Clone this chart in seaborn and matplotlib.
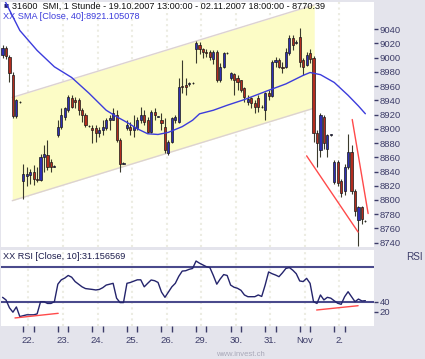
import numpy as np
import pandas as pd
import seaborn as sns
import matplotlib.pyplot as plt

# SMI hourly bars, 19.10.2007 13:00 -> 02.11.2007 18:00 (6 bars on the 19th, then 10 per day)
opens = [9004, 9014, 9001, 8976, 8918, 8937,
         8826, 8833, 8835, 8840, 8830, 8828, 8861, 8863, 8854, 8847,
         8891, 8903, 8917, 8926, 8943, 8940, 8940, 8926, 8919, 8904,
         8901, 8901, 8894, 8898, 8901, 8912, 8912, 8919, 8884, 8851,
         8901, 8903, 8898, 8901, 8912, 8919, 8912, 8896, 8924, 8917,
         8912, 8903, 8866, 8882, 8912, 8910, 8960, 8961, 8963, 8964,
         9012, 9018, 9012, 9008, 9008, 8998, 9008, 8968, 8987, 9006,
         8971, 8977, 8971, 8968, 8957, 8938, 8943, 8936, 8943, 8931,
         8926, 8950, 8946, 8994, 8997, 8987, 8987, 9006, 9027, 9020,
         9029, 8996, 8990, 9006, 8999, 8894, 8870, 8917, 8872, 8891,
         8825, 8854, 8826, 8812, 8847, 8868, 8812, 8772, 8790, 8771]
highs = [9017, 9016, 9003, 8980, 8942, 8939,
         8851, 8847, 8844, 8849, 8847, 8865, 8877, 8884, 8858, 8849,
         8912, 8929, 8931, 8947, 8947, 8945, 8943, 8929, 8922, 8905,
         8905, 8905, 8903, 8912, 8915, 8919, 8929, 8926, 8887, 8853,
         8912, 8910, 8919, 8917, 8931, 8926, 8917, 8926, 8929, 8918,
         8922, 8915, 8884, 8917, 8919, 8971, 8996, 8971, 8966, 8965,
         9023, 9022, 9014, 9012, 9010, 9010, 9010, 8992, 9008, 9008,
         8980, 8978, 8975, 8969, 8959, 8947, 8945, 8940, 8947, 8933,
         8952, 8955, 8997, 9001, 8999, 8994, 9013, 9032, 9032, 9025,
         9041, 8999, 9008, 9012, 9002, 8898, 8922, 8920, 8893, 8893,
         8856, 8856, 8830, 8850, 8893, 8877, 8815, 8792, 8792, 8772]
lows = [9000, 8998, 8966, 8915, 8915, 8936,
        8802, 8819, 8823, 8821, 8825, 8827, 8840, 8842, 8840, 8846,
        8889, 8900, 8912, 8924, 8929, 8929, 8919, 8910, 8903, 8903,
        8880, 8882, 8889, 8891, 8898, 8898, 8912, 8882, 8840, 8850,
        8898, 8891, 8889, 8898, 8908, 8905, 8894, 8894, 8912, 8916,
        8898, 8866, 8863, 8880, 8908, 8908, 8950, 8947, 8960, 8963,
        8992, 9005, 9000, 9001, 8996, 8991, 8966, 8966, 8985, 9005,
        8968, 8947, 8954, 8952, 8938, 8933, 8929, 8922, 8924, 8929,
        8912, 8940, 8944, 8987, 8985, 8978, 8985, 9003, 9010, 9019,
        8987, 8975, 8988, 8993, 8882, 8847, 8861, 8872, 8861, 8890,
        8822, 8819, 8804, 8807, 8843, 8808, 8777, 8735, 8766, 8769]
closes = [9014, 9002, 8978, 8918, 8940, 8938,
          8836, 8837, 8840, 8830, 8828, 8861, 8865, 8847, 8847, 8848,
          8903, 8919, 8929, 8944, 8931, 8938, 8926, 8919, 8905, 8904,
          8898, 8894, 8898, 8903, 8912, 8915, 8922, 8884, 8851, 8852,
          8905, 8898, 8903, 8912, 8919, 8910, 8896, 8924, 8919, 8917,
          8908, 8870, 8882, 8915, 8917, 8959, 8958, 8959, 8964, 8964,
          9020, 9012, 9008, 9006, 9001, 9008, 8968, 8987, 9007, 9007,
          8978, 8968, 8966, 8954, 8945, 8942, 8936, 8931, 8931, 8930,
          8950, 8946, 8994, 8996, 8987, 8985, 9008, 9027, 9017, 9022,
          8994, 8987, 9004, 8998, 8894, 8880, 8919, 8880, 8891, 8892,
          8854, 8824, 8810, 8847, 8868, 8812, 8785, 8790, 8774, 8770.39]

# SMA(40) (bar index, value)
sma_bar = [0, 5, 10, 15, 20, 25, 30, 33, 36, 39, 42, 45, 48, 52, 55, 57, 61,
           65, 70, 77, 82, 87, 89, 92, 96, 100, 103, 105]
sma_val = [9086, 9038, 9010, 8987, 8972, 8950, 8926, 8917, 8909, 8900, 8893,
           8892, 8895, 8903, 8912, 8921, 8926, 8933, 8941, 8954, 8963, 8975,
           8979, 8976, 8965, 8947, 8932, 8921.1]

# RSI(10), one value per bar
rsi = [35, 32, 23, 18, 24, 13,
       14, 15, 15, 15, 16, 30, 30, 28, 28, 30,
       50, 55, 57, 60, 58, 53, 50, 47, 45, 44.5,
       44, 43.4, 44, 46, 49, 50, 51, 34, 29, 29,
       51, 52, 53.5, 55, 55, 47, 51, 54.8, 54, 52,
       41, 35, 41, 47, 51, 59, 65, 65.4, 67, 68,
       76.5, 74, 72, 70, 69, 60, 50, 56, 61, 60,
       49, 46.5, 45.3, 43, 37.7, 35.7, 35.7, 35.7, 37.7, 36,
       49, 64, 62, 60.5, 58.6, 63, 68, 69, 66, 62,
       53.7, 53, 56.7, 51, 30, 28, 37.7, 32, 35, 34,
       31, 28.2, 27, 35.7, 41.4, 35.7, 30, 33, 30.8, 31.16]

# trend channel and wedge lines (bar index, price)
chan_x = [2.8, 90.2]
chan_hi = [8944, 9074]
chan_lo = [8799, 8929]
wedge_lo_x, wedge_lo_y = [88.0, 102.9], [8862, 8755]
wedge_hi_x, wedge_hi_y = [101.2, 105.8], [8913, 8781]
rsi_div1_x, rsi_div1_y = [3.6, 16.1], [11.4, 16.7]
rsi_div2_x, rsi_div2_y = [90.9, 102.9], [20.5, 25.4]

day_start = [6, 16, 26, 36, 46, 56, 66, 76, 86, 96]
day_labels = ["22.", "23.", "24.", "25.", "26.", "29.", "30.", "31.", "Nov", "2."]

df = pd.DataFrame({"open": opens, "high": highs, "low": lows, "close": closes, "rsi": rsi})
df["bar"] = np.arange(len(df))

sns.set_style("white")
plt.rcParams["font.family"] = ["Liberation Sans", "DejaVu Sans"]

W, H = 425, 359
fig = plt.figure(figsize=(W / 100, H / 100), dpi=100, facecolor="#e4e4ec")
ax = fig.add_axes([1 / W, 1 - 247 / H, 373 / W, 245 / H])
ax_rsi = fig.add_axes([1 / W, 1 - 326 / H, 373 / W, 76 / H], sharex=ax)

axis_col = "#3c3c68"

# ---- price panel ----
ax.fill_between(chan_x, chan_lo, chan_hi, color="#fcfcc6", lw=0, zorder=1)
ax.plot(chan_x, chan_hi, color="#dcd2d2", lw=1, zorder=2)
ax.plot(chan_x, chan_lo, color="#dcd2d2", lw=1, zorder=2)

up = df["close"] >= df["open"]
ax.vlines(df["bar"], df["low"], df["high"], color="#3a3a2c", lw=0.8, zorder=3)
ax.bar(df["bar"], (df["close"] - df["open"]).abs().clip(lower=0.5),
       bottom=df[["open", "close"]].min(axis=1), width=0.62,
       color=np.where(up, "#2e2eb4", "#b22c1e"), edgecolor="#1a1a1a",
       lw=0.5, zorder=4)

sns.lineplot(x=sma_bar, y=sma_val, ax=ax, color="#3c3cdc", lw=1, zorder=5)
ax.plot(wedge_lo_x, wedge_lo_y, color="#ff4a4a", lw=1, zorder=5)
ax.plot(wedge_hi_x, wedge_hi_y, color="#ff4a4a", lw=1, zorder=5)

ax.set_xlim(-0.45, 107.5)
ax.set_ylim(8734, 9078)
ax.yaxis.tick_right()
ax.set_yticks(range(8740, 9041, 20))
ax.tick_params(axis="y", right=True, length=3, width=1, pad=1,
               labelsize=6.8, colors=axis_col)
ax.tick_params(axis="x", bottom=False, labelbottom=False)
ax.set_xlabel("")
ax.set_ylabel("")
for s in ax.spines.values():
    s.set_visible(False)

ax.text(0.008, 0.984, "\u25a0", transform=ax.transAxes, fontsize=6,
        color="#202070", va="center", ha="left")
ax.text(0.03, 0.984, "31600  SMI, 1 Stunde - 19.10.2007 13:00:00 - 02.11.2007 18:00:00 - 8770.39",
        transform=ax.transAxes, fontsize=6.6, color="#101010", va="center", ha="left")
ax.text(0.006, 0.94, "XX SMA [Close, 40]:8921.105078", transform=ax.transAxes,
        fontsize=6.6, color="#3c3cdc", va="center", ha="left")

# ---- RSI panel ----
ax_rsi.axhline(70, color="#4a4a8c", lw=1.5, zorder=2)
ax_rsi.axhline(30, color="#4a4a8c", lw=1.5, zorder=2)
sns.lineplot(data=df, x="bar", y="rsi", ax=ax_rsi, color="#24246c", lw=1, zorder=3)
ax_rsi.plot(rsi_div1_x, rsi_div1_y, color="#ff4a4a", lw=1, zorder=4)
ax_rsi.plot(rsi_div2_x, rsi_div2_y, color="#ff4a4a", lw=1, zorder=4)

ax_rsi.set_ylim(2.2, 89.1)
ax_rsi.yaxis.tick_right()
ax_rsi.set_yticks([30, 18.6], ["40", "20"])
ax_rsi.tick_params(axis="y", right=True, length=3, width=1, pad=1,
                   labelsize=6.8, colors=axis_col)
ax_rsi.set_xticks([d + 1.5 for d in day_start], day_labels)
ax_rsi.set_xticks([d for d in day_start] + [d + 3 for d in day_start], minor=True)
ax_rsi.tick_params(axis="x", which="major", length=0, pad=7, labelsize=6.8, colors=axis_col)
ax_rsi.tick_params(axis="x", which="minor", bottom=True, length=4, width=1,
                   direction="out", color=axis_col)
ax_rsi.grid(axis="x", which="major", color="#ececE2", ls=":", lw=1.5)
ax.grid(axis="x", which="major", color="#ececE2", ls=":", lw=1.5)
ax_rsi.set_xlabel("")
ax_rsi.set_ylabel("")
for s in ax_rsi.spines.values():
    s.set_visible(False)

ax_rsi.text(0.006, 0.91, "XX RSI [Close, 10]:31.156569", transform=ax_rsi.transAxes,
            fontsize=6.6, color="#1c1c4c", va="center", ha="left")
fig.text(414 / W, 1 - 257 / H, "RSI", fontsize=7.2, color=axis_col, ha="center", va="center")
fig.text(240 / W, 1 - 354 / H, "www.invest.ch", fontsize=5.5, color="#a8a8b8",
         ha="center", va="center")

fig.savefig("out.png", dpi=100, facecolor=fig.get_facecolor())
